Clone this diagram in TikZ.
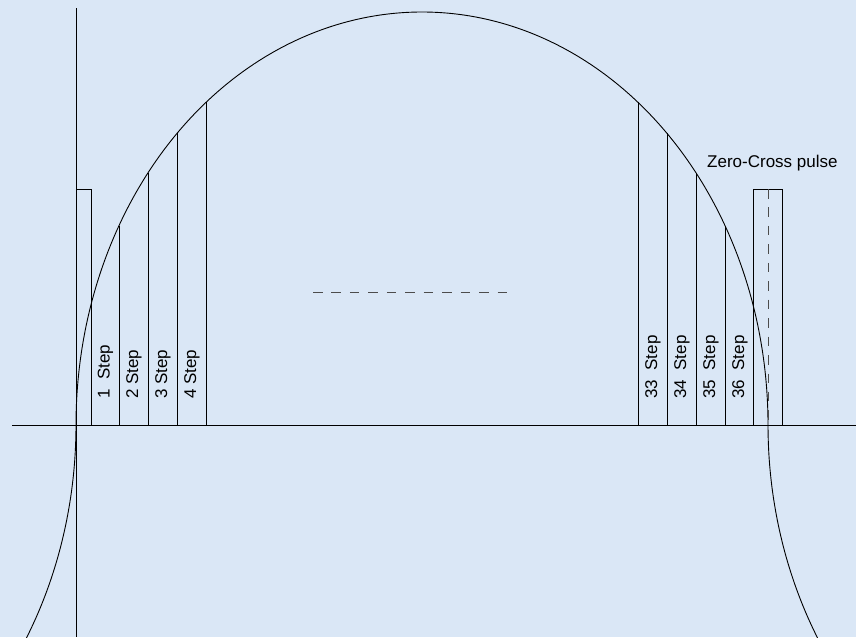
\documentclass[tikz,border=0pt]{standalone}
\usepackage{fontspec}
\setmainfont{Liberation Sans}
\definecolor{bgblue}{RGB}{218,231,246}
\tikzset{
  line/.style={black, line width=0.9pt},
  dashline/.style={black!70, line width=0.9pt, dash pattern=on 9.5pt off 8.95pt},
  steplabel/.style={rotate=90, anchor=west, inner sep=0pt, font=\fontsize{17}{19}\selectfont},
  toplabel/.style={anchor=base west, inner sep=0pt, font=\fontsize{17}{19}\selectfont}
}
\begin{document}
\begin{tikzpicture}[x=1pt, y=-1pt]
  \fill[bgblue] (0,0) rectangle (856,637);
  \useasboundingbox (0,0) rectangle (856,637);
  \begin{scope}
    \clip (0,0) rectangle (856,637);
    % axes
    \draw[line] (76,8) coordinate (vtop) -- (76,637) coordinate (vbot);
    \draw[line] (12,425) coordinate (hl) -- (856,425) coordinate (hr);
    % wave
    \draw[line] plot[domain=0:180, samples=181, smooth] ({422+346*cos(\x)},{425-413*sin(\x)});
    \draw[line] plot[domain=0:32, samples=40, smooth] ({-270+346*cos(\x)},{425+413*sin(\x)});
    \draw[line] plot[domain=0:32, samples=40, smooth] ({1114-346*cos(\x)},{425+413*sin(\x)});
    % left zero-cross pulse
    \draw[line] (76,189) coordinate (lp1) -- (91,189) coordinate (lp2) -- (91,425) coordinate (lp3);
    % right zero-cross pulse
    \draw[line] (753,425) coordinate (rp1) rectangle (782,189) coordinate (rp2);
    \draw[dashline] (768,189) coordinate (zc1) -- (768,428) coordinate (zc2);
    % step lines
    \foreach \sx in {119,148,177,206,638,667,696,725}{
      \draw[line] (\sx,425) -- ({\sx},{425-413*sqrt(1-((\sx-422)/346)^2)});
    }
    % middle dashed line
    \draw[dashline] (313,292) coordinate (d1) -- (507,292) coordinate (d2);
  \end{scope}
  % labels
  \node[steplabel] (s1) at (105.5,399) {1\ \ Step};
  \node[steplabel] (s2) at (134,399) {2 Step};
  \node[steplabel] (s3) at (163,399) {3 Step};
  \node[steplabel] (s4) at (192,399) {4 Step};
  \node[steplabel] (s33) at (653,399) {33\ \ Step};
  \node[steplabel] (s34) at (682,399) {34\ \ Step};
  \node[steplabel] (s35) at (711,399) {35\ \ Step};
  \node[steplabel] (s36) at (740,399) {36\ \ Step};
  \node[toplabel] (zc) at (707,167) {Zero-Cross pulse};
\end{tikzpicture}
\end{document}
